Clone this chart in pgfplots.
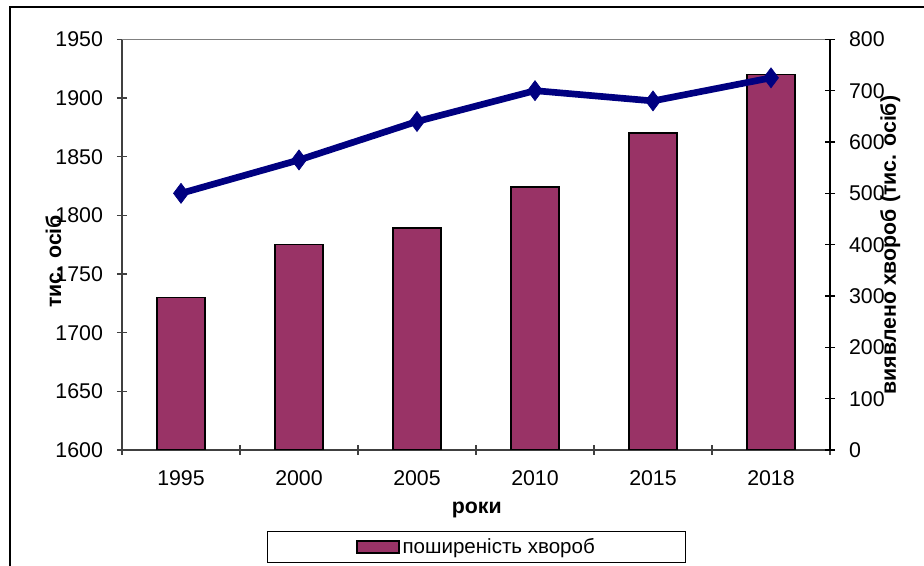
\documentclass[border=0pt]{standalone}
\usepackage{pgfplots}
\pgfplotsset{compat=1.18}
\usepackage{fontspec}
\setmainfont{Liberation Sans}
\definecolor{barc}{RGB}{153,51,102}
\definecolor{linec}{RGB}{0,0,128}
\begin{document}
\begin{tikzpicture}
\pgfplotsset{base/.style={
  scale only axis, width=531pt, height=308pt,
  xmin=-0.5, xmax=5.5,
  tick align=center,
  /pgf/number format/assume math mode=true,
  /pgf/number format/1000 sep={},
  tick label style={font=\fontsize{16}{19}\selectfont},
  label style={font=\bfseries\fontsize{16}{19}\selectfont},
  major tick length=7.5pt, minor tick length=7.5pt,
}}
\begin{axis}[base, name=ax1,
  axis x line*=bottom, axis y line*=left,
  axis line style={black!75, line width=0.9pt},
  every tick/.style={black!75, line width=0.8pt},
  ymin=1600, ymax=1950, ytick={1600,1650,...,1950},
  xtick={0,...,5}, xticklabels={1995,2000,2005,2010,2015,2018},
  major x tick style={draw=none},
  minor xtick={-0.5,0.5,...,5.5},
  yticklabel style={xshift=-7pt},
  xticklabel style={yshift=-8pt},
  xlabel={роки},
  xlabel style={at={(axis description cs:0.501,-0.145)}, anchor=center},
  ylabel={тис. осіб},
  ylabel style={at={(axis description cs:-0.097,0.459)}, anchor=center},
  legend style={at={(axis description cs:0.501,-0.2366)}, anchor=center,
    draw=black, line width=0.75pt, inner xsep=66pt, inner ysep=3pt,
    font=\fontsize{15.4}{18}\selectfont},
]
\coordinate (O) at (rel axis cs:0,0);
\coordinate (T) at (rel axis cs:1,1);
\addplot[ybar, bar width=36pt, fill=barc, draw=black, line width=1.2pt,
  legend image code/.code={\draw[fill=barc, draw=black, line width=1.5pt] (0pt,-4.5pt) rectangle (31.5pt,4.5pt);}]
  coordinates {(0,1730) (1,1775) (2,1789) (3,1824) (4,1870) (5,1920)};
\addlegendentry{поширеність хвороб}
\end{axis}
\draw[gray, line width=0.9pt] (O |- T) -- (T);
\begin{axis}[base,
  axis x line=none, axis y line*=right,
  axis line style={black, line width=0.9pt},
  every tick/.style={black, line width=0.8pt},
  ymin=0, ymax=800, ytick={0,100,...,800},
  yticklabel style={xshift=7pt},
  ylabel={виявлено хвороб (тис. осіб)},
  ylabel style={at={(axis description cs:1.085,0.499)}, anchor=center},
]
\addplot[linec, line width=5pt, mark=diamond*, mark size=7.5pt,
  mark options={solid, line width=0.5pt, fill=linec}]
  coordinates {(0,500) (1,565) (2,640) (3,700) (4,680) (5,725)};
\end{axis}
\draw[line width=0.9pt] ([xshift=-84pt,yshift=-87pt]O) -- ([xshift=-84pt,yshift=332.25pt]O) -- ([xshift=601.5pt,yshift=332.25pt]O);
\pgfresetboundingbox
\path[use as bounding box] ([xshift=-91.5pt,yshift=-87pt]O) rectangle ([xshift=601.5pt,yshift=337.5pt]O);
\end{tikzpicture}
\end{document}
